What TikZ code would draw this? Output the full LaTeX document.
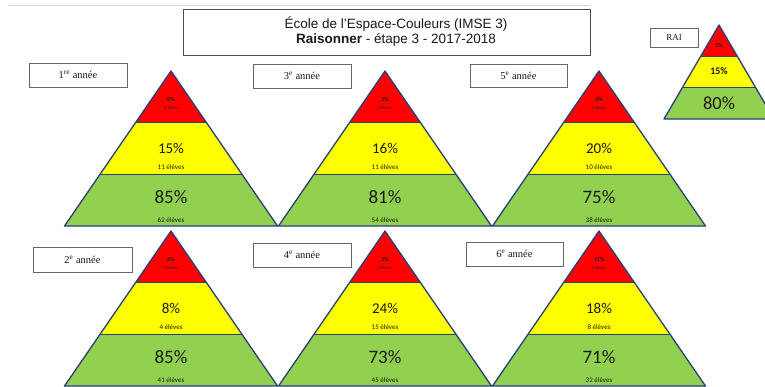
\documentclass[tikz,border=0pt]{standalone}
\usepackage{fontspec}
\setmainfont{Liberation Serif}
\newfontfamily\calib{Carlito}
\newfontfamily\arialf{Liberation Sans}
\definecolor{redc}{RGB}{255,0,0}
\definecolor{yelc}{RGB}{255,255,0}
\definecolor{grnc}{RGB}{146,208,80}
\definecolor{edgec}{RGB}{38,64,120}
\definecolor{txtc}{RGB}{25,25,25}
\tikzset{
  edge/.style={draw=edgec, line width=1.3pt, line join=round},
  lab/.style={draw=black!60, line width=0.8pt, fill=white, font=\fontsize{10.5}{12}\selectfont, text=txtc},
  rp/.style={font=\calib\bfseries\fontsize{6}{7}\selectfont, text=black!90, inner sep=0pt},
  rc/.style={font=\calib\fontsize{4.5}{5}\selectfont, text=black!85, inner sep=0pt},
  yp/.style={font=\calib\fontsize{15}{17}\selectfont, text=txtc, inner sep=0pt},
  gp/.style={font=\calib\fontsize{19}{21}\selectfont, text=txtc, inner sep=0pt},
  sc/.style={font=\calib\fontsize{7}{8}\selectfont, text=txtc, inner sep=0pt},
}
\newcommand\pyr[9]{%
\begin{scope}[shift={(#2,#3)}]
\fill[redc] (0,0) -- (-35.5,51.7) -- (35.5,51.7) -- cycle;
\fill[yelc] (-35.5,51.7) -- (35.5,51.7) -- (71,103.3) -- (-71,103.3) -- cycle;
\fill[grnc] (-71,103.3) -- (71,103.3) -- (106.5,155) -- (-106.5,155) -- cycle;
\draw[edge] (0,0) -- (106.5,155) -- (-106.5,155) -- cycle;
\draw[edge] (-35.5,51.7) -- (35.5,51.7) (-71,103.3) -- (71,103.3);
\node[rp] (#1rp) at (0,28) {#4};
\node[rc] (#1rc) at (0,36.5) {#5};
\node[yp] (#1yp) at (0,77) {#6};
\node[sc] (#1yc) at (0,96.5) {#7};
\node[gp] (#1gp) at (0,126) {#8};
\node[sc] (#1gc) at (0,149.5) {#9};
\end{scope}}
\begin{document}
\begin{tikzpicture}[x=1pt,y=-1pt]
\useasboundingbox (0,0) rectangle (765,386);
\clip (0,0) rectangle (765,386);
\fill[white] (0,0) rectangle (765,386);
\draw[black!15, line width=0.8pt] (8,5) -- (590,5);
% title
\draw[black!70, line width=0.9pt, fill=white] (183,9) rectangle (590,55);
\node[font=\arialf\fontsize{13.5}{15}\selectfont, text=txtc, inner sep=0pt, align=center] (title) at (396,32) {École de l’Espace-Couleurs (IMSE 3)\\\textbf{Raisonner} - étape 3 - 2017-2018};
% pyramids
\pyr{pa}{171}{71}{0\%}{0 élève}{15\%}{11 élèves}{85\%}{62 élèves}
\pyr{pc}{385}{71}{3\%}{2 élèves}{16\%}{11 élèves}{81\%}{54 élèves}
\pyr{pe}{599}{71}{6\%}{3 élèves}{20\%}{10 élèves}{75\%}{38 élèves}
\pyr{pb}{171}{231}{6\%}{3 élèves}{8\%}{4 élèves}{85\%}{41 élèves}
\pyr{pd}{385}{231}{3\%}{2 élèves}{24\%}{15 élèves}{73\%}{45 élèves}
\pyr{pf}{599}{231}{11\%}{5 élèves}{18\%}{8 élèves}{71\%}{32 élèves}
% RAI pyramid
\begin{scope}[shift={(719,25)}]
\fill[redc] (0,0) -- (-18.3,31.3) -- (18.3,31.3) -- cycle;
\fill[yelc] (-18.3,31.3) -- (18.3,31.3) -- (36.7,62.7) -- (-36.7,62.7) -- cycle;
\fill[grnc] (-36.7,62.7) -- (36.7,62.7) -- (55,94) -- (-55,94) -- cycle;
\draw[edge] (0,0) -- (55,94) -- (-55,94) -- cycle;
\draw[edge] (-18.3,31.3) -- (18.3,31.3) (-36.7,62.7) -- (36.7,62.7);
\node[rp] (raip) at (0,20) {5\%};
\node[font=\calib\bfseries\fontsize{10}{12}\selectfont, text=txtc, inner sep=0pt] (raiy) at (0,46) {15\%};
\node[font=\calib\fontsize{18.5}{20}\selectfont, text=txtc, inner sep=0pt] (raig) at (0,78) {80\%};
\end{scope}
% labels
\node[lab, minimum width=98pt, minimum height=24pt] (l1) at (78,75) {1\textsuperscript{re} année};
\node[lab, minimum width=98pt, minimum height=24pt] (l3) at (302,76) {3\textsuperscript{e} année};
\node[lab, minimum width=97pt, minimum height=23pt] (l5) at (518.5,75.5) {5\textsuperscript{e} année};
\node[lab, minimum width=48pt, minimum height=19pt, font=\fontsize{9}{10}\selectfont] (lr) at (674,37.5) {RAI};
\node[lab, minimum width=99pt, minimum height=25pt] (l2) at (82.5,259.5) {2\textsuperscript{e} année};
\node[lab, minimum width=98pt, minimum height=24pt] (l4) at (302,255) {4\textsuperscript{e} année};
\node[lab, minimum width=97pt, minimum height=24pt] (l6) at (514.5,254) {6\textsuperscript{e} année};
\end{tikzpicture}
\end{document}
